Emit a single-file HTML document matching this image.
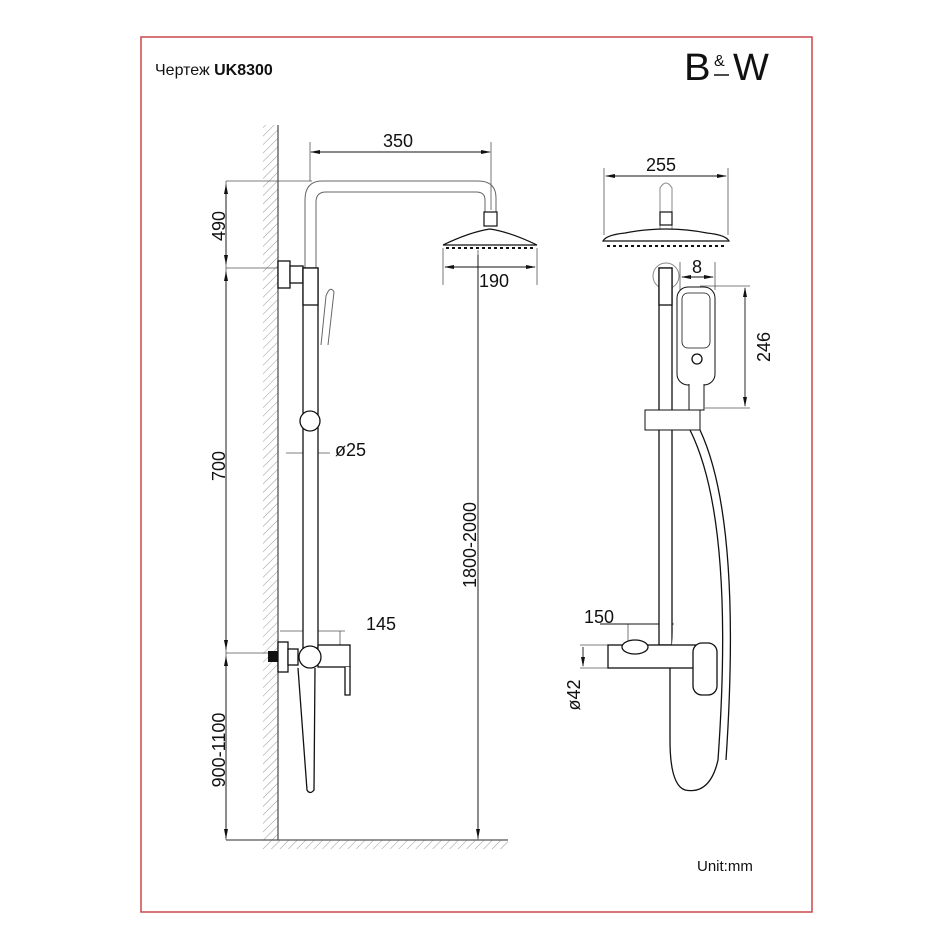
<!DOCTYPE html>
<html><head><meta charset="utf-8"><style>
html,body{margin:0;padding:0;background:#fff;width:950px;height:950px;overflow:hidden}
svg{display:block}
text{font-family:"Liberation Sans",sans-serif;fill:#111}
</style></head><body>
<svg width="950" height="950" viewBox="0 0 950 950" xmlns="http://www.w3.org/2000/svg">
<defs>
<pattern id="h" patternUnits="userSpaceOnUse" width="6" height="6" patternTransform="rotate(45)">
<line x1="0" y1="0" x2="0" y2="6" stroke="#999" stroke-width="1"/></pattern>
<marker id="a" markerWidth="10" markerHeight="6" refX="9" refY="3" orient="auto-start-reverse" markerUnits="userSpaceOnUse"><path d="M0,1 L10,3 L0,5Z" fill="#111"/></marker>
</defs>
<text x="155" y="75" font-size="16">Чертеж <tspan font-weight="bold">UK8300</tspan></text>
<text x="684" y="80" font-size="38" fill="#222" transform="translate(684,0) scale(1.05,1) translate(-684,0)">B</text>
<text x="714" y="66" font-size="16" fill="#222">&amp;</text>
<text x="733" y="80" font-size="38" fill="#222">W</text>
<line x1="714" y1="75" x2="729" y2="75" stroke="#111" stroke-width="1.5"/>

<rect x="263" y="125" width="15" height="715" fill="url(#h)"/>
<line x1="278" y1="125" x2="278" y2="840" stroke="#555" stroke-width="1.3"/>
<rect x="263" y="840" width="245" height="9" fill="url(#h)"/>
<line x1="226" y1="840" x2="508" y2="840" stroke="#555" stroke-width="1.3"/>

<g stroke="#555" stroke-width="0.8" fill="none">
<line x1="226" y1="181" x2="226" y2="840"/>
<line x1="226" y1="181" x2="312" y2="181"/>
<line x1="226" y1="268" x2="278" y2="268"/>
<line x1="226" y1="653" x2="270" y2="653"/>
<line x1="310" y1="142" x2="310" y2="181"/>
<line x1="491" y1="142" x2="491" y2="210"/>
<line x1="443" y1="248" x2="443" y2="285"/>
<line x1="537" y1="248" x2="537" y2="285"/>
<line x1="478" y1="250" x2="478" y2="840"/>
<line x1="286" y1="453" x2="330" y2="453"/>
<line x1="280" y1="631" x2="345" y2="631"/>
<line x1="340" y1="631" x2="340" y2="648"/>
</g>
<g stroke="#111" stroke-width="0.9" fill="none">
<line x1="226" y1="185" x2="226" y2="264" marker-start="url(#a)" marker-end="url(#a)"/>
<line x1="226" y1="272" x2="226" y2="649" marker-start="url(#a)" marker-end="url(#a)"/>
<line x1="226" y1="657" x2="226" y2="838" marker-start="url(#a)" marker-end="url(#a)"/>
<line x1="311" y1="152" x2="490" y2="152" marker-start="url(#a)" marker-end="url(#a)"/>
<line x1="445" y1="267" x2="535" y2="267" marker-start="url(#a)" marker-end="url(#a)"/>
<line x1="478" y1="255" x2="478" y2="838" marker-end="url(#a)"/>
</g>
<g font-size="18">
<text x="383" y="147">350</text>
<text x="479" y="287">190</text>
<text x="335" y="456">ø25</text>
<text x="366" y="630">145</text>
<text transform="translate(225,226) rotate(-90)" text-anchor="middle">490</text>
<text transform="translate(225,466) rotate(-90)" text-anchor="middle">700</text>
<text transform="translate(225,750) rotate(-90)" text-anchor="middle">900-1100</text>
<text transform="translate(476,545) rotate(-90)" text-anchor="middle">1800-2000</text>
</g>

<g stroke="#666" stroke-width="1" fill="none">
<path d="M305,268 V200 Q305,181 322,181 H478 Q496,181 496,198 V212"/>
<path d="M316,268 V202 Q316,192 326,192 H476 Q485,192 485,200 V212"/>
<path d="M321,345 L326,296 Q330,285 334,292 L328,345"/>
</g>
<rect x="484" y="212" width="13" height="14" fill="#fff" stroke="#111" stroke-width="1.2"/>
<path d="M443,245 Q470,232 490,229 Q510,232 537,245 Z" fill="#fff" stroke="#111" stroke-width="1.2"/>
<line x1="446" y1="248" x2="535" y2="248" stroke="#111" stroke-width="2" stroke-dasharray="3,3"/>
<g stroke="#111" stroke-width="1.3" fill="#fff">
<rect x="278" y="261" width="12" height="27"/>
<rect x="290" y="266" width="13" height="17"/>
<rect x="303" y="268" width="15" height="380"/>
<rect x="303" y="268" width="15" height="37"/>
<circle cx="310" cy="421" r="10"/>
<rect x="318" y="645" width="32" height="22"/>
<path d="M345,667 V695 H350 V667"/>
<rect x="278" y="642" width="10" height="30"/>
<rect x="288" y="649" width="10" height="16"/>
<circle cx="310" cy="657" r="11"/>
</g>
<rect x="268" y="651" width="10" height="11" fill="#111"/>
<path d="M298,668 L307,790 Q310,795 314,790 L315,668" fill="none" stroke="#111" stroke-width="1.3"/>

<g stroke="#555" stroke-width="0.8" fill="none">
<line x1="604" y1="168" x2="604" y2="235"/>
<line x1="728" y1="168" x2="728" y2="235"/>
<line x1="680" y1="262" x2="680" y2="290"/>
<line x1="715" y1="262" x2="715" y2="290"/>
<line x1="700" y1="286" x2="750" y2="286"/>
<line x1="705" y1="408" x2="750" y2="408"/>
<line x1="628" y1="624" x2="628" y2="645"/>
<line x1="705" y1="624" x2="705" y2="645"/>
<line x1="580" y1="645" x2="608" y2="645"/>
<line x1="580" y1="668" x2="608" y2="668"/>
</g>
<g stroke="#111" stroke-width="0.9" fill="none">
<line x1="606" y1="176" x2="726" y2="176" marker-start="url(#a)" marker-end="url(#a)"/>
<line x1="682" y1="277" x2="713" y2="277" marker-start="url(#a)" marker-end="url(#a)"/>
<line x1="745" y1="288" x2="745" y2="406" marker-start="url(#a)" marker-end="url(#a)"/>
<line x1="600" y1="624" x2="705" y2="624"/>
<line x1="583" y1="647" x2="583" y2="666" marker-end="url(#a)"/>
</g>
<g font-size="18">
<text x="646" y="171">255</text>
<text x="692" y="273">8</text>
<text x="584" y="623">150</text>
<text transform="translate(770,347) rotate(-90)" text-anchor="middle">246</text>
<text transform="translate(580,695) rotate(-90)" text-anchor="middle">ø42</text>
<text x="697" y="871" font-size="15">Unit:mm</text>
</g>
<g stroke="#888" stroke-width="1" fill="none">
<path d="M660,232 V188 Q666,178 672,188 V232"/>
<circle cx="666" cy="276" r="13"/>
</g>
<rect x="660" y="212" width="12" height="13" fill="#fff" stroke="#111" stroke-width="1.2"/>
<path d="M603,241 Q606,235 625,233 Q645,229 666,229 Q687,229 707,233 Q726,235 729,241 Z" fill="#fff" stroke="#111" stroke-width="1.2"/>
<line x1="607" y1="246" x2="726" y2="246" stroke="#111" stroke-width="2" stroke-dasharray="3,3"/>
<g stroke="#111" stroke-width="1.3" fill="#fff">
<rect x="659" y="268" width="13" height="377"/>
<rect x="659" y="268" width="13" height="37"/>
<rect x="677" y="287" width="38" height="98" rx="11" stroke-width="1"/>
<rect x="682" y="293" width="28" height="55" rx="6" stroke-width="0.8"/>
<circle cx="697" cy="359" r="5"/>
<path d="M689,384 V410 H704 V384" stroke-width="1"/>
<rect x="645" y="410" width="55" height="20" stroke-width="1"/>
<path d="M690,430 Q735,520 718,760 Q710,795 685,790 Q670,785 670,740 V668" stroke-width="1.3"/>
<path d="M700,430 Q742,520 726,760" stroke-width="1.3" fill="none"/>
<rect x="608" y="645" width="97" height="23"/>
<ellipse cx="635" cy="647" rx="13" ry="7"/>
<rect x="693" y="643" width="24" height="52" rx="9"/>
</g>
<rect x="141" y="37" width="671" height="875" fill="none" stroke="#c9484c" stroke-width="1.5"/>
</svg>
</body></html>
